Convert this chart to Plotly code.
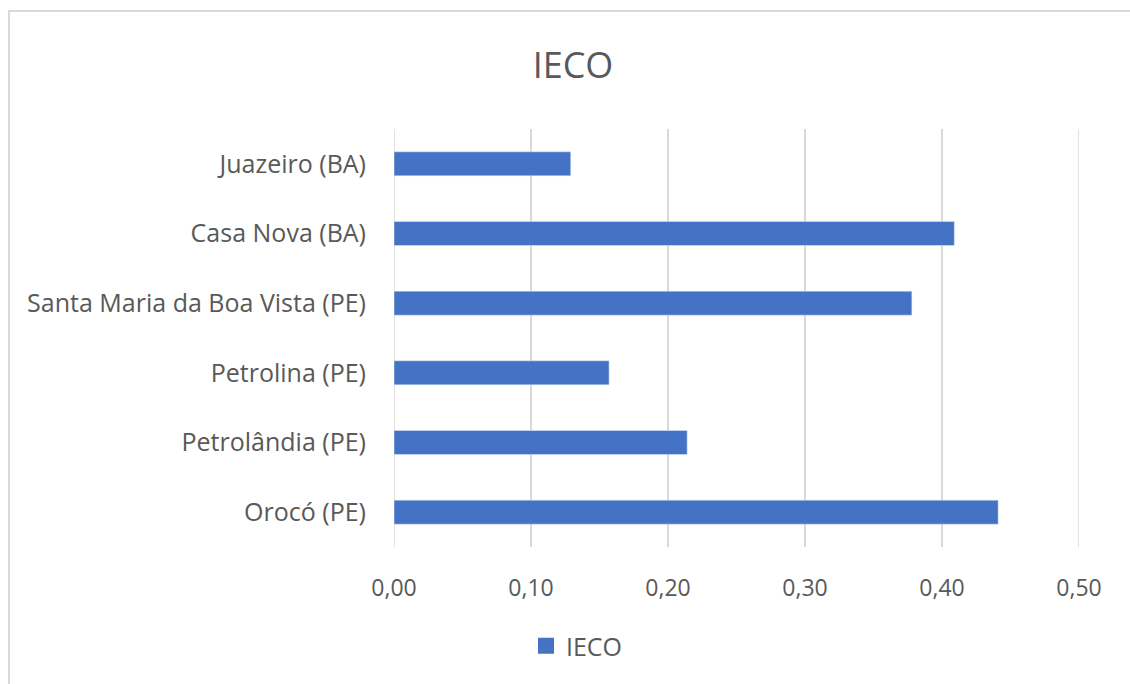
import plotly.graph_objects as go

categories = ["Orocó (PE)", "Petrolândia (PE)", "Petrolina (PE)",
              "Santa Maria da Boa Vista (PE)", "Casa Nova (BA)", "Juazeiro (BA)"]
values = [0.441, 0.214, 0.157, 0.378, 0.409, 0.129]
x_ticks = [0.0, 0.1, 0.2, 0.3, 0.4, 0.5]

W, H = 1130, 684
L, R, T, B = 394, 51, 129, 137
pw, ph = W - L - R, H - T - B

fig = go.Figure()
fig.add_trace(go.Bar(
    x=values, y=categories, orientation="h", name="IECO",
    marker=dict(color="#4472C4"), width=0.345, showlegend=False,
))
# legend entry with a larger square swatch
fig.add_trace(go.Scatter(
    x=[None], y=[None], mode="markers", name="IECO",
    marker=dict(symbol="square", size=16, color="#4472C4"), showlegend=True,
))

grid_color = "#d9d9d9"
shapes = [dict(type="rect", xref="paper", yref="paper",
               x0=(9 - L) / pw, x1=(W + 20 - L) / pw,
               y0=-(H + 20 - T - ph) / ph, y1=(H - 11 - B) / ph,
               line=dict(color=grid_color, width=2), layer="below")]
# gridlines at the range edges (plotly skips them)
for xv in (x_ticks[0], x_ticks[-1]):
    shapes.append(dict(type="line", xref="x", yref="paper", x0=xv, x1=xv,
                       y0=0, y1=1, line=dict(color=grid_color, width=1.5),
                       layer="below"))

font_family = "Open Sans, Noto Sans, sans-serif"
fig.update_layout(
    width=W, height=H,
    margin=dict(l=L, r=R, t=T, b=B, autoexpand=False),
    paper_bgcolor="white", plot_bgcolor="white",
    separators=",.",
    font=dict(family=font_family, color="#595959", size=24),
    title=dict(text="IECO", x=573 / W, xref="container", y=1 - 65 / H,
               yref="container", xanchor="center", yanchor="middle",
               font=dict(size=36, color="#595959", family=font_family)),
    xaxis=dict(range=[x_ticks[0], x_ticks[-1]], tickvals=x_ticks, tickformat=".2f",
               showgrid=True, gridcolor=grid_color, gridwidth=1.5,
               zeroline=False, showline=False, ticks="outside", ticklen=0,
               ticklabelstandoff=20, tickfont=dict(size=23, color="#595959"),
               fixedrange=True),
    yaxis=dict(showgrid=False, zeroline=False, showline=False,
               categoryorder="array", categoryarray=categories,
               ticks="outside", ticklen=0, ticklabelstandoff=22,
               tickfont=dict(size=25, color="#595959")),
    legend=dict(orientation="h", x=577 / W, xref="container", xanchor="center",
                y=1 - 646 / H, yref="container", yanchor="middle",
                font=dict(size=25, color="#595959"), itemwidth=30),
    shapes=shapes,
)

fig.write_html("out.html")
